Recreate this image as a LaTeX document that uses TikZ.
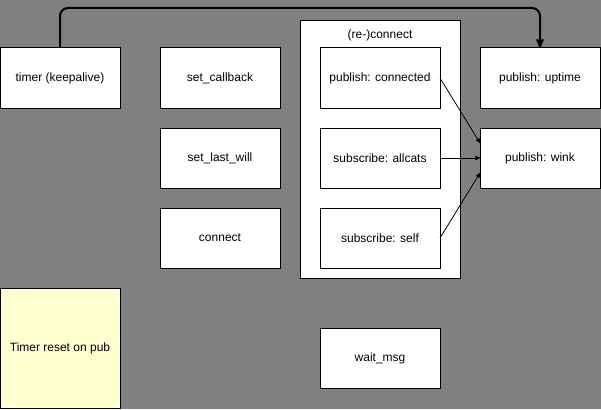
\documentclass[tikz,border=0pt]{standalone}
\usepackage{fontspec}
\setmainfont{Liberation Sans}
\usepackage{tikz}
\usetikzlibrary{shapes, arrows, positioning}

\definecolor{bggray}{HTML}{808080}
\definecolor{noteyellow}{HTML}{FFFFD0}

\begin{document}
\begin{tikzpicture}[x=1pt, y=-1pt, >=stealth', node distance=20pt and 40pt,
    box/.style={draw, fill=white, line width=1pt, minimum width=120pt, minimum height=60pt, inner sep=0pt, outer sep=0pt, font=\fontsize{12}{14}\selectfont},
    group/.style={draw, fill=white, line width=1pt, minimum width=160pt, minimum height=257pt, inner sep=0pt, outer sep=0pt},
    flow/.style={->, line width=0.8pt}]
    \fill[bggray] (0,0) rectangle (601,409);
    \useasboundingbox (0,0) rectangle (601,409);

    \node[group]    (Reconnect)     at (380,149.5) {};
    \node[font=\fontsize{12}{14}\selectfont] (ReconnectLabel) at (380,35) {(re-)connect};

    \node[box]      (Timer)         at (60,78)  {timer (keepalive)};
    \node[box]      (SetCallback)   [right=of Timer]        {set\_callback};
    \node[box]      (SetLastWill)   [below=of SetCallback]  {set\_last\_will};
    \node[box]      (Connect)       [below=of SetLastWill]  {connect};
    \node[box]      (PubConnected)  [right=of SetCallback]  {publish: connected};
    \node[box]      (SubAllcats)    [below=of PubConnected] {subscribe: allcats};
    \node[box]      (SubSelf)       [below=of SubAllcats]   {subscribe: self};
    \node[box]      (PubUptime)     [right=of PubConnected] {publish: uptime};
    \node[box]      (PubWink)       [below=of PubUptime]    {publish: wink};
    \node[box]      (WaitMsg)       [below=60pt of SubSelf] {wait\_msg};
    \node[box, fill=noteyellow, minimum height=120pt] (TimerNote) at (60,348) {Timer reset on pub};

    % keepalive loop over the top
    \coordinate (TopBend) at (0,8);
    \draw[->, line width=2pt, rounded corners=8pt]
        (Timer.north) -- (Timer.north |- TopBend) -- (PubUptime.north |- TopBend) -- (PubUptime.north);

    \draw[flow] (PubConnected.east) -- ([yshift=15pt]PubWink.west);
    \draw[flow] (SubAllcats.east)   -- (PubWink.west);
    \draw[flow] (SubSelf.east)      -- ([yshift=-15pt]PubWink.west);

\end{tikzpicture}
\end{document}
